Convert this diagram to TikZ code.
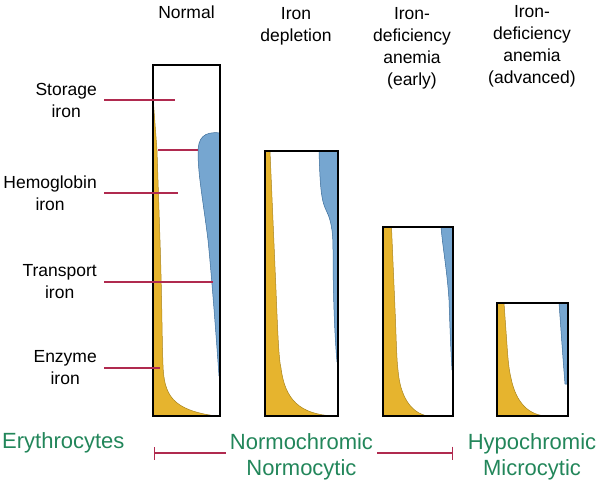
\documentclass[tikz,border=0pt]{standalone}
\usepackage{fontspec}
\setmainfont{Liberation Sans}
\usepackage{tikz}
\usetikzlibrary{positioning,arrows.meta}

\definecolor{ironyellow}{HTML}{E6B42E}
\definecolor{ironyellowline}{HTML}{A8841E}
\definecolor{ironblue}{HTML}{76A6D0}
\definecolor{ironblueline}{HTML}{3A6C9A}
\definecolor{pointerred}{HTML}{B02A4F}
\definecolor{stagegreen}{HTML}{22865A}

\begin{document}
\begin{tikzpicture}[x=1pt, y=-1pt,
    every node/.style={font=\fontsize{17.5}{22}\selectfont, align=center, inner sep=0pt},
    box/.style={draw=black, line width=2pt, rectangle},
    yfill/.style={fill=ironyellow, draw=ironyellowline, line width=0.5pt},
    bfill/.style={fill=ironblue, draw=ironblueline, line width=0.5pt},
    pointer/.style={draw=pointerred, line width=1.1pt},
    stage/.style={text=stagegreen, font=\fontsize{22}{26}\selectfont}]
    \useasboundingbox (0,0) rectangle (600,485);

    % Normal: iron compartments
    \draw[yfill] (153,97) -- (157,150) -- (160,240) .. controls (162,300) and (162,340) .. (163,365)
        .. controls (164,395) and (172,410) .. (216,416) -- (153,416) -- cycle;
    \draw[bfill] (220,133) .. controls (204,131) and (198,138) .. (198,152)
        .. controls (198,175) and (203,200) .. (208,240)
        .. controls (211,270) and (215,320) .. (219,376) -- (220,376) -- cycle;

    % Iron depletion
    \draw[yfill] (265,151) -- (270,151) -- (276,290) .. controls (278,340) and (279,360) .. (281,368)
        .. controls (285,400) and (300,414) .. (333,416) -- (265,416) -- cycle;
    \draw[bfill] (319,151) .. controls (320,185) and (321,200) .. (326,210)
        .. controls (331,220) and (333,230) .. (333,250)
        .. controls (333,300) and (335,340) .. (337,362) -- (338,362) -- (338,151) -- cycle;

    % Anemia (early)
    \draw[yfill] (383,227) -- (391.5,227) -- (395.5,320) .. controls (396.5,350) and (397,362) .. (398,370)
        .. controls (400,395) and (410,413) .. (428,416) -- (383,416) -- cycle;
    \draw[bfill] (441,227) .. controls (443,250) and (447,270) .. (449,300)
        .. controls (450,330) and (451,355) .. (452,370) -- (453,370) -- (453,227) -- cycle;

    % Anemia (advanced)
    \draw[yfill] (497,303) -- (504,303) -- (507,345) .. controls (508,360) and (509,370) .. (511,378)
        .. controls (515,398) and (525,414) .. (545,416) -- (497,416) -- cycle;
    \draw[bfill] (559,303) .. controls (561,330) and (563,360) .. (565,384) -- (567,384) -- (568,303) -- cycle;

    % Stage boxes
    \foreach \n/\cx/\cy/\w/\h in {normalbox/186.5/240.5/67/351, deplbox/301.5/283.5/73/265,
                                   earlybox/418/321.5/70/189, advbox/532.5/359.5/71/113} {
        \node[box, minimum width=\w pt, minimum height=\h pt] (\n) at (\cx,\cy) {};
    }

    % Stage headings
    \foreach \n/\x/\y/\t in {hnormal/186.5/6/Normal, hdepl/296/7/{Iron\\depletion},
                             hearly/412/7/{Iron-\\deficiency\\anemia\\(early)},
                             hadv/532/5/{Iron-\\deficiency\\anemia\\(advanced)}} {
        \node[anchor=north] (\n) at (\x,\y) {\t};
    }

    % Compartment labels
    \foreach \n/\y/\t in {storage/100/{Storage\\iron}, hemo/193/{Hemoglobin\\iron},
                          transport/282/{Transport\\iron}, enzyme/368/{Enzyme\\iron}} {
        \node[anchor=east, inner xsep=7pt] (\n) at (104,\y) {\t};
    }
    \coordinate (storagetip) at (175,100);
    \coordinate (hemotip) at (178,193);
    \coordinate (transporttip) at (213,282);
    \coordinate (enzymetip) at (160,368);
    \coordinate (storeA) at (158,150);
    \coordinate (storeB) at (198,150);
    \draw[pointer] (storage.east) -- (storagetip);
    \draw[pointer] (hemo.east) -- (hemotip);
    \draw[pointer] (transport.east) -- (transporttip);
    \draw[pointer] (enzyme.east) -- (enzymetip);
    \draw[pointer] (storeA) -- (storeB);

    % Erythrocytes
    \node[stage, anchor=base west] (ery) at (2,448) {Erythrocytes};
    \node[stage, anchor=north, inner xsep=4pt] (normo) at (301.5,433) {Normochromic\\Normocytic};
    \node[stage, anchor=north, inner xsep=4pt] (hypo) at (532,433) {Hypochromic\\Microcytic};
    \coordinate (normobar) at (154,453);
    \coordinate (hypobar) at (453,453);
    \draw[pointer, {Bar[width=13pt]}-] (normobar) -- (normo.west |- normobar);
    \draw[pointer, -{Bar[width=13pt]}] (normo.east |- hypobar) -- (hypobar);
\end{tikzpicture}
\end{document}
